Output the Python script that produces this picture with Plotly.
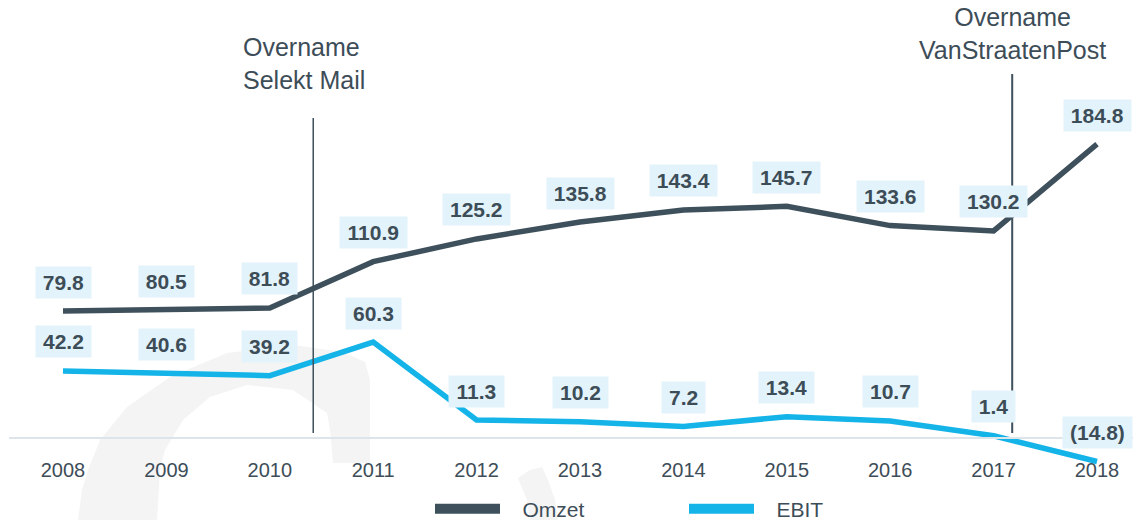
import plotly.graph_objects as go

# ---------------- data ----------------
years = [2008, 2009, 2010, 2011, 2012, 2013, 2014, 2015, 2016, 2017, 2018]
omzet = [79.8, 80.5, 81.8, 110.9, 125.2, 135.8, 143.4, 145.7, 133.6, 130.2, 184.8]
ebit = [42.2, 40.6, 39.2, 60.3, 11.3, 10.2, 7.2, 13.4, 10.7, 1.4, -14.8]
series_names = ["Omzet", "EBIT"]
event_x = [2010.42, 2017.18]
event_texts = ["Overname<br>Selekt Mail", "Overname<br>VanStraatenPost"]

# ---------------- style ----------------
C_OMZET = "#3e505b"
C_EBIT = "#15b4e8"
C_TEXT = "#3d4d58"
C_BOX = "#e3f3fb"
FONT = "Liberation Sans, Arial, sans-serif"

W, H = 1133, 520
ML, MR, MT, MB = 9, 0, 0, 0
ZERO_PX = 438.0
PX_PER_UNIT = 1.59
Y_TOP = ZERO_PX / PX_PER_UNIT
Y_BOT = -(H - ZERO_PX) / PX_PER_UNIT
X0_PX, STEP_PX = 63.0, 103.4
X_LEFT = years[0] - (X0_PX - ML) / STEP_PX
X_RIGHT = years[0] + (W - MR - X0_PX) / STEP_PX


def fmt(v):
    return f"({abs(v):.1f})" if v < 0 else f"{v:.1f}"


CW = {".": 0.278, "(": 0.333, ")": 0.333}


def text_w(s, size):
    return sum(CW.get(c, 0.556) for c in s) * size


def px2paper(px, py):
    return (px - ML) / (W - ML - MR), (H - MB - py) / (H - MT - MB)


fig = go.Figure()

fig.add_trace(go.Scatter(x=years, y=omzet, mode="lines", name=series_names[0],
                         line=dict(color=C_OMZET, width=5.5), showlegend=False))
fig.add_trace(go.Scatter(x=years, y=ebit, mode="lines", name=series_names[1],
                         line=dict(color=C_EBIT, width=5.5), showlegend=False))
# legend entries (thick swatches)
NB = "\u00a0" * 3
fig.add_trace(go.Scatter(x=[None], y=[None], mode="lines", name=NB + series_names[0],
                         line=dict(color=C_OMZET, width=10)))
fig.add_trace(go.Scatter(x=[None], y=[None], mode="lines", name=NB + series_names[1],
                         line=dict(color=C_EBIT, width=10)))

annotations = []
for vals in (omzet, ebit):
    for x, v in zip(years, vals):
        t = fmt(v)
        annotations.append(dict(
            x=x, y=v, xref="x", yref="y", text=t, showarrow=False,
            yshift=29, xanchor="center", yanchor="middle",
            bgcolor=C_BOX, borderpad=0, width=text_w(t, 21) + 14, height=31,
            font=dict(family=FONT, size=21, color=C_TEXT, weight="bold")))

# event labels and lines
event_label_y = [235.8, 254.7]
event_top_y = [201.3, 228.9]
event_xshift = [-9, 0]
event_align = ["left", "center"]
shapes = []
for ex, et, ly, ty, xs, al, lw in zip(event_x, event_texts, event_label_y, event_top_y,
                                       event_xshift, event_align, [1.5, 2]):
    annotations.append(dict(x=ex, y=ly, xref="x", yref="y", text=et, showarrow=False,
                            xanchor="center", yanchor="middle", align=al, xshift=xs,
                            font=dict(family=FONT, size=25, color=C_TEXT)))
    shapes.append(dict(type="line", xref="x", yref="y", x0=ex, x1=ex, y0=3.1, y1=ty,
                       line=dict(color=C_OMZET, width=lw), layer="above"))

# faint background logo watermark
arc_px = [(78, 520), (82, 490), (88, 470), (100, 440), (127, 407), (170, 377), (227, 353),
          (293, 345), (343, 352), (365, 362), (370, 380), (370, 463),
          (333, 463), (330, 430), (327, 413), (293, 390), (247, 385), (210, 397),
          (183, 420), (165, 450), (160, 470), (157, 520)]
tail_px = [(518, 478), (530, 470), (542, 467), (548, 480), (555, 500), (558, 520),
           (530, 520), (527, 500), (522, 488)]
for poly in (arc_px, tail_px):
    pts = [px2paper(px, py) for px, py in poly]
    path = "M " + " L ".join(f"{a:.4f},{b:.4f}" for a, b in pts) + " Z"
    shapes.append(dict(type="path", xref="paper", yref="paper", path=path,
                       fillcolor="#f4f4f4", line=dict(width=0), layer="below"))

fig.update_layout(
    template="none",
    width=W, height=H, autosize=False,
    margin=dict(l=ML, r=MR, t=MT, b=MB, pad=0, autoexpand=False),
    paper_bgcolor="white", plot_bgcolor="white",
    font=dict(family=FONT, color=C_TEXT),
    xaxis=dict(range=[X_LEFT, X_RIGHT], tickmode="array", tickvals=years,
               ticktext=[str(y) for y in years], showgrid=False, zeroline=False,
               showline=True, linecolor="#dde5ea", linewidth=2, automargin=False,
               anchor="free", position=(0 - Y_BOT) / (Y_TOP - Y_BOT),
               ticks="", ticklabelstandoff=14,
               tickfont=dict(family=FONT, size=20, color=C_TEXT)),
    yaxis=dict(range=[Y_BOT, Y_TOP], visible=False, showgrid=False, zeroline=False,
               automargin=False),
    legend=dict(orientation="h", x=px2paper(430, 0)[0], xanchor="left",
                y=px2paper(0, 509)[1], yanchor="middle", itemwidth=65,
                entrywidth=174, font=dict(family=FONT, size=21, color=C_TEXT),
                bgcolor="rgba(0,0,0,0)"),
    annotations=annotations,
    shapes=shapes,
    showlegend=True,
)

fig.write_html("out.html", config={"displayModeBar": False},
               post_script="document.body.style.margin='0px';document.body.style.overflow='hidden';")
